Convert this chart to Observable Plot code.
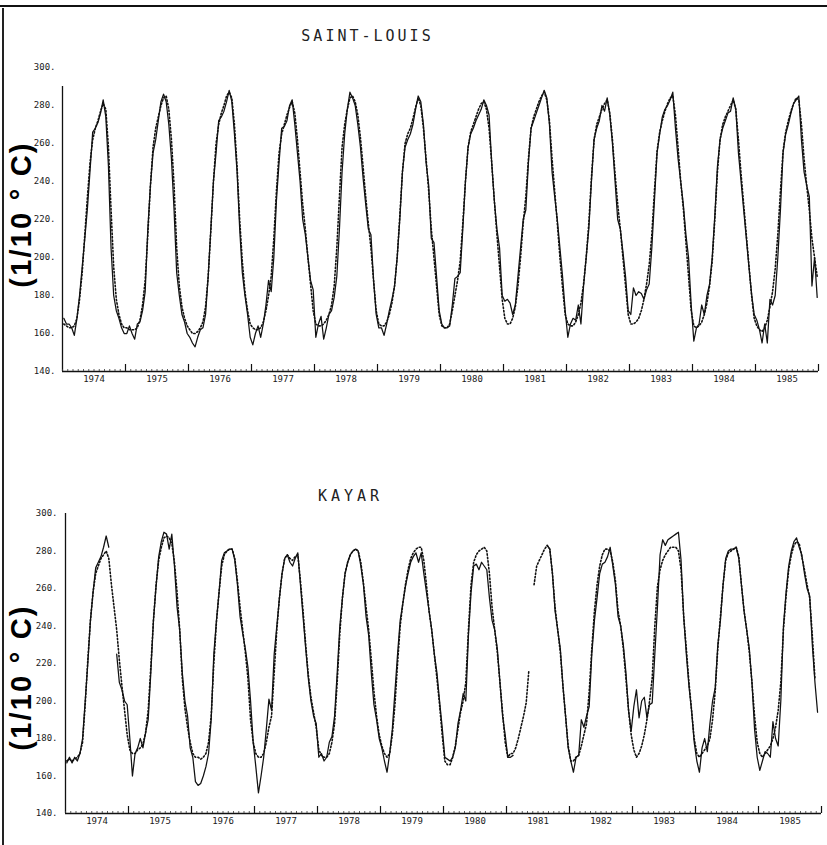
<!DOCTYPE html>
<html>
<head>
<meta charset="utf-8">
<script src="https://cdn.jsdelivr.net/npm/d3@7"></script>
<script src="https://cdn.jsdelivr.net/npm/@observablehq/plot@0.6"></script>
<style>
  html, body { margin: 0; padding: 0; background: #fff; }
  #page { position: relative; width: 827px; height: 845px; overflow: hidden; background: #fff; }
  #page svg { position: absolute; left: 0; overflow: visible; }
  .border-top { position: absolute; left: 0; top: 5px; width: 827px; border-top: 2px solid #111; }
  .border-left { position: absolute; left: 2px; top: 8px; height: 837px; border-left: 2px solid #222; }
</style>
</head>
<body>
<div id="page"><div class="border-top"></div><div class="border-left"></div></div>
<script>
// ---------------- data ----------------
const years = [1974, 1975, 1976, 1977, 1978, 1979, 1980, 1981, 1982, 1983, 1984, 1985];
const slotsPerYear = 24; // semi-monthly values, one row per year
const yearLabels = ["1974","1975","1976","1977","1978","1979","1980","1981","1982","1983","1984","1985"];
const yTicks = [140, 160, 180, 200, 220, 240, 260, 280, 300];
const unitLabel = "(1/10 ° C)";

const saintLouisSolid = [
  168,165,165,163,159,168,180,195,210,226,246,266,268,271,276,283,274,248,205,180,172,168,163,160,
  160,164,160,157,165,166,172,182,215,238,255,262,272,282,286,282,270,252,225,192,180,170,166,160,
  158,155,153,158,162,163,170,190,215,240,255,272,274,277,282,288,282,265,245,215,192,180,170,158,
  154,160,164,158,165,175,188,182,200,230,250,268,269,272,280,283,270,255,240,220,212,200,188,183,
  158,165,169,157,163,170,172,179,190,215,245,265,278,287,284,280,270,258,242,228,215,212,188,170,
  163,163,159,165,172,178,185,200,220,245,258,262,265,270,278,285,282,270,250,238,210,208,190,172,
  165,163,163,164,175,189,190,192,215,240,258,265,268,272,275,278,283,280,275,250,230,215,205,180,
  177,178,176,170,175,190,205,220,225,250,268,272,276,280,284,288,284,270,245,232,220,205,190,172,
  158,165,168,167,175,165,185,200,215,240,262,268,272,280,277,284,275,260,240,220,215,203,190,172,
  170,184,180,182,181,178,183,186,205,230,255,265,274,278,280,283,287,268,252,240,228,212,200,175,
  156,163,165,175,170,180,186,200,222,248,262,268,272,276,277,284,278,255,240,225,210,195,181,170,
  167,162,155,165,155,178,175,180,200,225,255,265,270,276,281,283,285,262,245,238,232,185,200,179
];
const saintLouisDotted = [
  165,164,163,163,164,168,178,192,212,232,250,262,268,272,277,281,278,258,225,195,178,170,165,163,
  163,162,162,162,163,167,175,188,212,238,258,268,274,280,284,285,278,262,238,205,185,174,168,164,
  162,160,160,161,163,166,174,190,214,240,260,270,276,280,285,287,284,270,248,220,198,182,172,165,
  163,162,162,163,166,172,180,190,210,235,255,265,270,275,279,282,276,262,245,228,215,200,186,172,
  165,164,164,165,167,170,175,185,205,232,258,270,278,284,285,282,275,263,248,232,218,205,188,172,
  165,164,164,166,170,176,185,200,222,245,260,265,268,273,279,284,280,268,252,235,215,200,185,170,
  164,163,163,165,172,180,188,198,218,240,258,266,270,274,278,281,282,278,268,250,230,212,195,178,
  168,165,165,168,174,185,200,218,232,252,268,274,278,282,285,287,283,272,252,235,218,200,184,170,
  165,164,164,166,170,176,186,200,218,242,262,270,274,278,281,283,276,262,244,228,215,200,185,170,
  165,165,166,168,172,178,186,196,212,235,256,266,272,277,281,284,285,275,258,240,226,208,190,172,
  164,163,164,166,170,176,185,198,220,245,262,270,274,277,280,283,278,262,244,228,212,196,180,168,
  164,162,161,163,167,174,182,194,212,235,256,266,272,277,281,284,283,270,252,238,225,210,200,190
];
const kayarSolid = [
  167,170,167,170,168,172,180,200,220,243,258,271,274,277,282,288,282,null,null,225,210,206,200,198,
  180,160,172,175,180,175,183,190,215,243,261,277,285,290,289,281,289,272,250,238,215,200,192,175,
  170,157,155,156,160,165,172,190,225,243,258,275,279,280,281,281,275,262,245,236,228,218,200,178,
  165,151,160,170,185,201,195,225,240,255,268,276,278,274,272,276,279,262,245,228,212,200,192,188,
  170,172,168,170,178,181,192,215,240,255,268,274,278,280,281,280,272,262,245,235,215,198,190,180,
  175,168,162,172,185,205,225,243,252,261,268,274,277,279,274,279,268,258,248,238,225,215,200,186,
  170,169,168,170,175,188,195,204,200,235,258,272,273,270,274,272,270,255,243,238,228,210,192,182,
  170,170,171,null,null,null,null,null,null,null,null,null,null,null,null,283,281,268,248,238,228,208,192,175,
  168,162,170,171,190,186,192,197,225,243,255,268,273,274,277,282,272,262,245,240,230,215,195,184,
  197,206,191,200,202,191,198,199,225,250,278,286,283,286,287,288,289,290,275,245,225,208,195,178,
  168,162,175,180,173,188,200,207,230,243,262,276,280,281,281,282,276,262,248,238,228,210,185,170,
  163,168,173,172,170,189,180,176,200,240,258,272,280,285,287,282,278,268,260,256,230,210,194,null
];
const kayarDotted = [
  168,169,168,169,170,172,178,198,222,243,258,268,272,276,278,280,276,262,250,238,222,208,195,182,
  174,172,172,174,175,177,183,195,218,243,262,275,282,287,288,287,284,274,258,238,212,196,186,178,
  172,170,170,169,170,172,178,192,220,242,258,272,278,280,281,281,276,264,250,238,226,212,190,178,
  172,170,170,172,178,186,192,215,238,255,268,276,278,276,275,277,278,264,248,230,214,202,194,186,
  174,171,170,170,172,178,188,210,236,255,268,274,278,280,281,280,274,263,250,238,222,205,192,182,
  176,172,170,172,182,198,220,240,252,262,270,276,279,281,282,282,275,262,248,238,225,212,198,182,
  168,166,166,170,176,185,194,200,210,238,262,274,278,280,281,282,280,268,250,238,226,210,194,178,
  170,172,172,175,180,186,192,199,216,null,262,272,275,278,281,283,281,268,250,238,226,208,192,176,
  168,168,170,171,176,182,188,205,228,248,262,272,278,281,281,280,274,264,248,240,228,212,195,182,
  174,170,172,176,182,190,200,212,240,261,270,275,278,280,282,282,282,280,270,245,228,210,195,180,
  172,170,172,174,176,180,190,205,228,245,262,275,279,280,281,282,277,262,248,238,226,210,192,178,
  172,170,172,174,176,180,186,195,210,238,256,270,278,283,285,284,277,270,262,255,235,212,null,null
];

// ---------------- helpers ----------------
const toSeries = values => values.map((v, i) => ({t: years[0] + (i + 0.5) / slotsPerYear, v}));
const xDomain = [years[0], years[years.length - 1] + 1];
const yDomain = [yTicks[0], yTicks[yTicks.length - 1]];
const yearBounds = d3.range(years[0] + 1, xDomain[1] + 1);
const monthTicks = d3.range(0, years.length * 12 + 1).map(m => years[0] + m / 12);
const yearMids = years.map(y => y + 0.5);

function panel(cfg) {
  const frameH = cfg.height - cfg.marginTop - cfg.marginBottom;
  const frameCx = (cfg.marginLeft + 827 - cfg.marginRight) / 2;
  const frameCy = (cfg.marginTop + cfg.height - cfg.marginBottom) / 2;
  const svg = Plot.plot({
    width: 827,
    height: cfg.height,
    marginLeft: cfg.marginLeft,
    marginRight: cfg.marginRight,
    marginTop: cfg.marginTop,
    marginBottom: cfg.marginBottom,
    style: {fontFamily: "'DejaVu Sans Mono', monospace", fontSize: "9px", color: "#1a1a1a", background: "transparent", overflow: "visible"},
    x: {domain: xDomain, axis: null},
    y: {domain: yDomain, axis: null},
    marks: [
      Plot.ruleY([yDomain[0]], {stroke: "#111", strokeWidth: 1.3}),
      Plot.ruleX([xDomain[0]], {y1: yDomain[0], y2: cfg.axisTop, stroke: "#111", strokeWidth: 1.3}),
      Plot.tickX(monthTicks, {x: d => d, insetTop: frameH - 2, stroke: "#333", strokeWidth: 0.8}),
      Plot.tickX(yearBounds, {x: d => d, insetTop: frameH - 7, stroke: "#111", strokeWidth: 1.2}),
      Plot.axisY(yTicks, {anchor: "left", tickSize: 0, tickPadding: cfg.tickPad, tickFormat: d => d + ".", label: null}),
      Plot.axisX(yearMids, {anchor: "bottom", tickSize: 0, tickPadding: 4, tickFormat: d => yearLabels[Math.floor(d) - years[0]], label: null}),
      Plot.line(toSeries(cfg.dotted), {x: "t", y: "v", stroke: "#111", strokeWidth: 1.6, strokeDasharray: "1.4,2.1"}),
      Plot.line(toSeries(cfg.solid), {x: "t", y: "v", stroke: "#111", strokeWidth: 1.25}),
      Plot.text([cfg.title], {text: d => d, frameAnchor: "top", textAnchor: "middle", dx: cfg.titleX - frameCx, dy: cfg.titleY - cfg.marginTop,
        fontFamily: "'DejaVu Sans Mono', monospace", fontSize: 15, fill: "#222"}),
      Plot.text([unitLabel], {text: d => d, frameAnchor: "left", textAnchor: "middle", rotate: -90, dx: cfg.labelX - cfg.marginLeft, dy: cfg.labelY - frameCy,
        fontFamily: "'Liberation Sans', Arial, sans-serif", fontSize: 29, fontWeight: "bold", fill: "#000"})
    ]
  });
  d3.select(svg).selectAll("text")
    .filter(function() { return this.textContent === cfg.title; })
    .attr("letter-spacing", cfg.titleSpacing);
  d3.select(svg).selectAll("text")
    .filter(function() { return this.textContent === unitLabel; })
    .attr("letter-spacing", 2.2);
  svg.style.top = cfg.top + "px";
  document.getElementById("page").appendChild(svg);
}

panel({
  title: "SAINT-LOUIS", solid: saintLouisSolid, dotted: saintLouisDotted,
  top: 0, height: 395, marginTop: 67, marginBottom: 24, marginLeft: 62, marginRight: 9,
  axisTop: 290, tickPad: 7, titleX: 367, titleY: 30, titleSpacing: 3, labelX: 21, labelY: 214
});
panel({
  title: "KAYAR", solid: kayarSolid, dotted: kayarDotted,
  top: 440, height: 405, marginTop: 73, marginBottom: 32, marginLeft: 65, marginRight: 6,
  axisTop: 300, tickPad: 8, titleX: 350, titleY: 50, titleSpacing: 4, labelX: 21, labelY: 237
});
</script>
</body>
</html>
